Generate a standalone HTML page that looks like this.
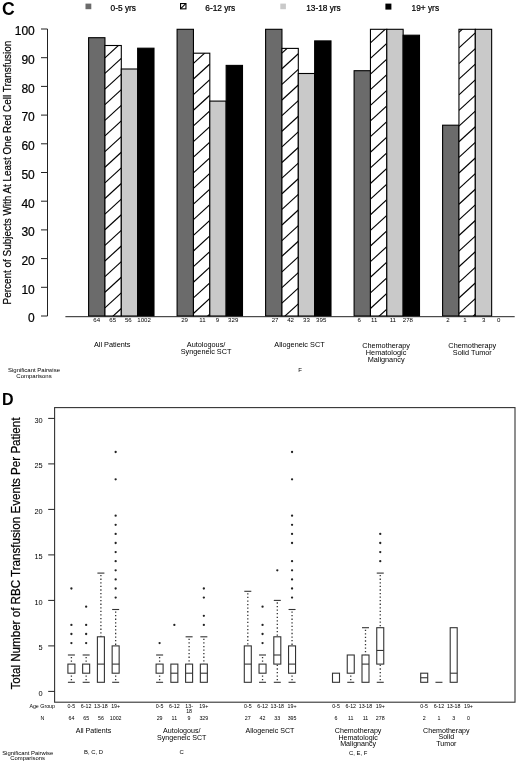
<!DOCTYPE html>
<html><head><meta charset="utf-8"><title>Figure</title>
<style>
html,body{margin:0;padding:0;background:#fff;}
body{width:520px;height:763px;overflow:hidden;}
svg{display:block;font-family:"Liberation Sans", sans-serif;will-change:transform;-webkit-font-smoothing:antialiased;}
text.b{stroke:#000;stroke-width:0.22px;}
</style></head>
<body>
<svg width="520" height="763" viewBox="0 0 520 763">
<rect x="0" y="0" width="520" height="763" fill="#fff"/>
<text x="2.00" y="15.10" font-size="17.6" text-anchor="start" font-weight="bold" fill="#000" >C</text>
<rect x="85.5" y="3.6" width="5.8" height="5.6" fill="#6b6b6b"/>
<text class="b" x="110.60" y="10.70" font-size="8.3" text-anchor="start" font-weight="normal" fill="#000" >0-5 yrs</text>
<rect x="180.55" y="3.5500000000000003" width="5.4" height="5.3" fill="#fff" stroke="#000" stroke-width="1.1"/>
<line x1="180.70" y1="8.70" x2="185.80" y2="3.70" stroke="#000" stroke-width="1.1" />
<text class="b" x="205.30" y="10.70" font-size="8.3" text-anchor="start" font-weight="normal" fill="#000" >6-12 yrs</text>
<rect x="280.3" y="3.6" width="5.6" height="5.6" fill="#c9c9c9"/>
<text class="b" x="306.20" y="10.70" font-size="8.3" text-anchor="start" font-weight="normal" fill="#000" >13-18 yrs</text>
<rect x="385.4" y="3.6" width="6" height="6" fill="#000"/>
<text class="b" x="411.60" y="10.70" font-size="8.3" text-anchor="start" font-weight="normal" fill="#000" >19+ yrs</text>
<line x1="47.50" y1="29.00" x2="47.50" y2="316.00" stroke="#222" stroke-width="1" />
<line x1="41.00" y1="316.00" x2="47.50" y2="316.00" stroke="#222" stroke-width="1" />
<text class="b" x="34.80" y="322.30" font-size="12" text-anchor="end" font-weight="normal" fill="#000" >0</text>
<line x1="41.00" y1="287.30" x2="47.50" y2="287.30" stroke="#222" stroke-width="1" />
<text class="b" x="34.80" y="293.60" font-size="12" text-anchor="end" font-weight="normal" fill="#000" >10</text>
<line x1="41.00" y1="258.60" x2="47.50" y2="258.60" stroke="#222" stroke-width="1" />
<text class="b" x="34.80" y="264.90" font-size="12" text-anchor="end" font-weight="normal" fill="#000" >20</text>
<line x1="41.00" y1="229.90" x2="47.50" y2="229.90" stroke="#222" stroke-width="1" />
<text class="b" x="34.80" y="236.20" font-size="12" text-anchor="end" font-weight="normal" fill="#000" >30</text>
<line x1="41.00" y1="201.20" x2="47.50" y2="201.20" stroke="#222" stroke-width="1" />
<text class="b" x="34.80" y="207.50" font-size="12" text-anchor="end" font-weight="normal" fill="#000" >40</text>
<line x1="41.00" y1="172.50" x2="47.50" y2="172.50" stroke="#222" stroke-width="1" />
<text class="b" x="34.80" y="178.80" font-size="12" text-anchor="end" font-weight="normal" fill="#000" >50</text>
<line x1="41.00" y1="143.80" x2="47.50" y2="143.80" stroke="#222" stroke-width="1" />
<text class="b" x="34.80" y="150.10" font-size="12" text-anchor="end" font-weight="normal" fill="#000" >60</text>
<line x1="41.00" y1="115.10" x2="47.50" y2="115.10" stroke="#222" stroke-width="1" />
<text class="b" x="34.80" y="121.40" font-size="12" text-anchor="end" font-weight="normal" fill="#000" >70</text>
<line x1="41.00" y1="86.40" x2="47.50" y2="86.40" stroke="#222" stroke-width="1" />
<text class="b" x="34.80" y="92.70" font-size="12" text-anchor="end" font-weight="normal" fill="#000" >80</text>
<line x1="41.00" y1="57.70" x2="47.50" y2="57.70" stroke="#222" stroke-width="1" />
<text class="b" x="34.80" y="64.00" font-size="12" text-anchor="end" font-weight="normal" fill="#000" >90</text>
<line x1="41.00" y1="29.00" x2="47.50" y2="29.00" stroke="#222" stroke-width="1" />
<text class="b" x="34.80" y="35.30" font-size="12" text-anchor="end" font-weight="normal" fill="#000" >100</text>
<text class="b" transform="translate(10.8,172.6) rotate(-90)" font-size="10.8" text-anchor="middle" textLength="263.6" lengthAdjust="spacingAndGlyphs">Percent of Subjects With At Least One Red Cell Transfusion</text>
<defs><clipPath id="none"><rect x="0" y="0" width="1" height="1"/></clipPath></defs>
<rect x="88.60" y="37.70" width="16.35" height="278.30" fill="#6b6b6b" stroke="#000" stroke-width="1.1"/>
<rect x="104.95" y="45.50" width="16.35" height="270.50" fill="#fff" stroke="#000" stroke-width="1.1"/>
<clipPath id="hc0"><rect x="104.95" y="45.50" width="16.35" height="270.50"/></clipPath>
<g clip-path="url(#hc0)">
<line x1="104.95" y1="10.91" x2="121.30" y2="-4.09" stroke="#000" stroke-width="1.15" />
<line x1="104.95" y1="26.54" x2="121.30" y2="11.54" stroke="#000" stroke-width="1.15" />
<line x1="104.95" y1="42.17" x2="121.30" y2="27.17" stroke="#000" stroke-width="1.15" />
<line x1="104.95" y1="57.80" x2="121.30" y2="42.80" stroke="#000" stroke-width="1.15" />
<line x1="104.95" y1="73.43" x2="121.30" y2="58.43" stroke="#000" stroke-width="1.15" />
<line x1="104.95" y1="89.06" x2="121.30" y2="74.06" stroke="#000" stroke-width="1.15" />
<line x1="104.95" y1="104.69" x2="121.30" y2="89.69" stroke="#000" stroke-width="1.15" />
<line x1="104.95" y1="120.32" x2="121.30" y2="105.32" stroke="#000" stroke-width="1.15" />
<line x1="104.95" y1="135.95" x2="121.30" y2="120.95" stroke="#000" stroke-width="1.15" />
<line x1="104.95" y1="151.58" x2="121.30" y2="136.58" stroke="#000" stroke-width="1.15" />
<line x1="104.95" y1="167.21" x2="121.30" y2="152.21" stroke="#000" stroke-width="1.15" />
<line x1="104.95" y1="182.84" x2="121.30" y2="167.84" stroke="#000" stroke-width="1.15" />
<line x1="104.95" y1="198.47" x2="121.30" y2="183.47" stroke="#000" stroke-width="1.15" />
<line x1="104.95" y1="214.10" x2="121.30" y2="199.10" stroke="#000" stroke-width="1.15" />
<line x1="104.95" y1="229.73" x2="121.30" y2="214.73" stroke="#000" stroke-width="1.15" />
<line x1="104.95" y1="245.36" x2="121.30" y2="230.36" stroke="#000" stroke-width="1.15" />
<line x1="104.95" y1="260.99" x2="121.30" y2="245.99" stroke="#000" stroke-width="1.15" />
<line x1="104.95" y1="276.62" x2="121.30" y2="261.62" stroke="#000" stroke-width="1.15" />
<line x1="104.95" y1="292.25" x2="121.30" y2="277.25" stroke="#000" stroke-width="1.15" />
<line x1="104.95" y1="307.88" x2="121.30" y2="292.88" stroke="#000" stroke-width="1.15" />
<line x1="104.95" y1="323.51" x2="121.30" y2="308.51" stroke="#000" stroke-width="1.15" />
</g>
<rect x="121.30" y="69.00" width="16.35" height="247.00" fill="#c9c9c9" stroke="#000" stroke-width="1.1"/>
<rect x="137.65" y="48.20" width="16.35" height="267.80" fill="#000" stroke="#000" stroke-width="1.1"/>
<rect x="177.10" y="29.30" width="16.35" height="286.70" fill="#6b6b6b" stroke="#000" stroke-width="1.1"/>
<rect x="193.45" y="53.20" width="16.35" height="262.80" fill="#fff" stroke="#000" stroke-width="1.1"/>
<clipPath id="hc1"><rect x="193.45" y="53.20" width="16.35" height="262.80"/></clipPath>
<g clip-path="url(#hc1)">
<line x1="193.45" y1="32.14" x2="209.80" y2="17.14" stroke="#000" stroke-width="1.15" />
<line x1="193.45" y1="47.77" x2="209.80" y2="32.77" stroke="#000" stroke-width="1.15" />
<line x1="193.45" y1="63.40" x2="209.80" y2="48.40" stroke="#000" stroke-width="1.15" />
<line x1="193.45" y1="79.03" x2="209.80" y2="64.03" stroke="#000" stroke-width="1.15" />
<line x1="193.45" y1="94.66" x2="209.80" y2="79.66" stroke="#000" stroke-width="1.15" />
<line x1="193.45" y1="110.29" x2="209.80" y2="95.29" stroke="#000" stroke-width="1.15" />
<line x1="193.45" y1="125.92" x2="209.80" y2="110.92" stroke="#000" stroke-width="1.15" />
<line x1="193.45" y1="141.55" x2="209.80" y2="126.55" stroke="#000" stroke-width="1.15" />
<line x1="193.45" y1="157.18" x2="209.80" y2="142.18" stroke="#000" stroke-width="1.15" />
<line x1="193.45" y1="172.81" x2="209.80" y2="157.81" stroke="#000" stroke-width="1.15" />
<line x1="193.45" y1="188.44" x2="209.80" y2="173.44" stroke="#000" stroke-width="1.15" />
<line x1="193.45" y1="204.07" x2="209.80" y2="189.07" stroke="#000" stroke-width="1.15" />
<line x1="193.45" y1="219.70" x2="209.80" y2="204.70" stroke="#000" stroke-width="1.15" />
<line x1="193.45" y1="235.33" x2="209.80" y2="220.33" stroke="#000" stroke-width="1.15" />
<line x1="193.45" y1="250.96" x2="209.80" y2="235.96" stroke="#000" stroke-width="1.15" />
<line x1="193.45" y1="266.59" x2="209.80" y2="251.59" stroke="#000" stroke-width="1.15" />
<line x1="193.45" y1="282.22" x2="209.80" y2="267.22" stroke="#000" stroke-width="1.15" />
<line x1="193.45" y1="297.85" x2="209.80" y2="282.85" stroke="#000" stroke-width="1.15" />
<line x1="193.45" y1="313.48" x2="209.80" y2="298.48" stroke="#000" stroke-width="1.15" />
<line x1="193.45" y1="329.11" x2="209.80" y2="314.11" stroke="#000" stroke-width="1.15" />
</g>
<rect x="209.80" y="101.10" width="16.35" height="214.90" fill="#c9c9c9" stroke="#000" stroke-width="1.1"/>
<rect x="226.15" y="65.40" width="16.35" height="250.60" fill="#000" stroke="#000" stroke-width="1.1"/>
<rect x="265.60" y="29.30" width="16.35" height="286.70" fill="#6b6b6b" stroke="#000" stroke-width="1.1"/>
<rect x="281.95" y="48.40" width="16.35" height="267.60" fill="#fff" stroke="#000" stroke-width="1.1"/>
<clipPath id="hc2"><rect x="281.95" y="48.40" width="16.35" height="267.60"/></clipPath>
<g clip-path="url(#hc2)">
<line x1="281.95" y1="21.84" x2="298.30" y2="6.84" stroke="#000" stroke-width="1.15" />
<line x1="281.95" y1="37.47" x2="298.30" y2="22.47" stroke="#000" stroke-width="1.15" />
<line x1="281.95" y1="53.10" x2="298.30" y2="38.10" stroke="#000" stroke-width="1.15" />
<line x1="281.95" y1="68.73" x2="298.30" y2="53.73" stroke="#000" stroke-width="1.15" />
<line x1="281.95" y1="84.36" x2="298.30" y2="69.36" stroke="#000" stroke-width="1.15" />
<line x1="281.95" y1="99.99" x2="298.30" y2="84.99" stroke="#000" stroke-width="1.15" />
<line x1="281.95" y1="115.62" x2="298.30" y2="100.62" stroke="#000" stroke-width="1.15" />
<line x1="281.95" y1="131.25" x2="298.30" y2="116.25" stroke="#000" stroke-width="1.15" />
<line x1="281.95" y1="146.88" x2="298.30" y2="131.88" stroke="#000" stroke-width="1.15" />
<line x1="281.95" y1="162.51" x2="298.30" y2="147.51" stroke="#000" stroke-width="1.15" />
<line x1="281.95" y1="178.14" x2="298.30" y2="163.14" stroke="#000" stroke-width="1.15" />
<line x1="281.95" y1="193.77" x2="298.30" y2="178.77" stroke="#000" stroke-width="1.15" />
<line x1="281.95" y1="209.40" x2="298.30" y2="194.40" stroke="#000" stroke-width="1.15" />
<line x1="281.95" y1="225.03" x2="298.30" y2="210.03" stroke="#000" stroke-width="1.15" />
<line x1="281.95" y1="240.66" x2="298.30" y2="225.66" stroke="#000" stroke-width="1.15" />
<line x1="281.95" y1="256.29" x2="298.30" y2="241.29" stroke="#000" stroke-width="1.15" />
<line x1="281.95" y1="271.92" x2="298.30" y2="256.92" stroke="#000" stroke-width="1.15" />
<line x1="281.95" y1="287.55" x2="298.30" y2="272.55" stroke="#000" stroke-width="1.15" />
<line x1="281.95" y1="303.18" x2="298.30" y2="288.18" stroke="#000" stroke-width="1.15" />
<line x1="281.95" y1="318.81" x2="298.30" y2="303.81" stroke="#000" stroke-width="1.15" />
<line x1="281.95" y1="334.44" x2="298.30" y2="319.44" stroke="#000" stroke-width="1.15" />
</g>
<rect x="298.30" y="73.50" width="16.35" height="242.50" fill="#c9c9c9" stroke="#000" stroke-width="1.1"/>
<rect x="314.65" y="40.90" width="16.35" height="275.10" fill="#000" stroke="#000" stroke-width="1.1"/>
<rect x="354.10" y="70.70" width="16.35" height="245.30" fill="#6b6b6b" stroke="#000" stroke-width="1.1"/>
<rect x="370.45" y="29.30" width="16.35" height="286.70" fill="#fff" stroke="#000" stroke-width="1.1"/>
<clipPath id="hc3"><rect x="370.45" y="29.30" width="16.35" height="286.70"/></clipPath>
<g clip-path="url(#hc3)">
<line x1="370.45" y1="-4.09" x2="386.80" y2="-19.09" stroke="#000" stroke-width="1.15" />
<line x1="370.45" y1="11.54" x2="386.80" y2="-3.46" stroke="#000" stroke-width="1.15" />
<line x1="370.45" y1="27.17" x2="386.80" y2="12.17" stroke="#000" stroke-width="1.15" />
<line x1="370.45" y1="42.80" x2="386.80" y2="27.80" stroke="#000" stroke-width="1.15" />
<line x1="370.45" y1="58.43" x2="386.80" y2="43.43" stroke="#000" stroke-width="1.15" />
<line x1="370.45" y1="74.06" x2="386.80" y2="59.06" stroke="#000" stroke-width="1.15" />
<line x1="370.45" y1="89.69" x2="386.80" y2="74.69" stroke="#000" stroke-width="1.15" />
<line x1="370.45" y1="105.32" x2="386.80" y2="90.32" stroke="#000" stroke-width="1.15" />
<line x1="370.45" y1="120.95" x2="386.80" y2="105.95" stroke="#000" stroke-width="1.15" />
<line x1="370.45" y1="136.58" x2="386.80" y2="121.58" stroke="#000" stroke-width="1.15" />
<line x1="370.45" y1="152.21" x2="386.80" y2="137.21" stroke="#000" stroke-width="1.15" />
<line x1="370.45" y1="167.84" x2="386.80" y2="152.84" stroke="#000" stroke-width="1.15" />
<line x1="370.45" y1="183.47" x2="386.80" y2="168.47" stroke="#000" stroke-width="1.15" />
<line x1="370.45" y1="199.10" x2="386.80" y2="184.10" stroke="#000" stroke-width="1.15" />
<line x1="370.45" y1="214.73" x2="386.80" y2="199.73" stroke="#000" stroke-width="1.15" />
<line x1="370.45" y1="230.36" x2="386.80" y2="215.36" stroke="#000" stroke-width="1.15" />
<line x1="370.45" y1="245.99" x2="386.80" y2="230.99" stroke="#000" stroke-width="1.15" />
<line x1="370.45" y1="261.62" x2="386.80" y2="246.62" stroke="#000" stroke-width="1.15" />
<line x1="370.45" y1="277.25" x2="386.80" y2="262.25" stroke="#000" stroke-width="1.15" />
<line x1="370.45" y1="292.88" x2="386.80" y2="277.88" stroke="#000" stroke-width="1.15" />
<line x1="370.45" y1="308.51" x2="386.80" y2="293.51" stroke="#000" stroke-width="1.15" />
<line x1="370.45" y1="324.14" x2="386.80" y2="309.14" stroke="#000" stroke-width="1.15" />
</g>
<rect x="386.80" y="29.30" width="16.35" height="286.70" fill="#c9c9c9" stroke="#000" stroke-width="1.1"/>
<rect x="403.15" y="35.20" width="16.35" height="280.80" fill="#000" stroke="#000" stroke-width="1.1"/>
<rect x="442.60" y="125.20" width="16.35" height="190.80" fill="#6b6b6b" stroke="#000" stroke-width="1.1"/>
<rect x="458.95" y="29.30" width="16.35" height="286.70" fill="#fff" stroke="#000" stroke-width="1.1"/>
<clipPath id="hc4"><rect x="458.95" y="29.30" width="16.35" height="286.70"/></clipPath>
<g clip-path="url(#hc4)">
<line x1="458.95" y1="1.04" x2="475.30" y2="-13.96" stroke="#000" stroke-width="1.15" />
<line x1="458.95" y1="16.67" x2="475.30" y2="1.67" stroke="#000" stroke-width="1.15" />
<line x1="458.95" y1="32.30" x2="475.30" y2="17.30" stroke="#000" stroke-width="1.15" />
<line x1="458.95" y1="47.93" x2="475.30" y2="32.93" stroke="#000" stroke-width="1.15" />
<line x1="458.95" y1="63.56" x2="475.30" y2="48.56" stroke="#000" stroke-width="1.15" />
<line x1="458.95" y1="79.19" x2="475.30" y2="64.19" stroke="#000" stroke-width="1.15" />
<line x1="458.95" y1="94.82" x2="475.30" y2="79.82" stroke="#000" stroke-width="1.15" />
<line x1="458.95" y1="110.45" x2="475.30" y2="95.45" stroke="#000" stroke-width="1.15" />
<line x1="458.95" y1="126.08" x2="475.30" y2="111.08" stroke="#000" stroke-width="1.15" />
<line x1="458.95" y1="141.71" x2="475.30" y2="126.71" stroke="#000" stroke-width="1.15" />
<line x1="458.95" y1="157.34" x2="475.30" y2="142.34" stroke="#000" stroke-width="1.15" />
<line x1="458.95" y1="172.97" x2="475.30" y2="157.97" stroke="#000" stroke-width="1.15" />
<line x1="458.95" y1="188.60" x2="475.30" y2="173.60" stroke="#000" stroke-width="1.15" />
<line x1="458.95" y1="204.23" x2="475.30" y2="189.23" stroke="#000" stroke-width="1.15" />
<line x1="458.95" y1="219.86" x2="475.30" y2="204.86" stroke="#000" stroke-width="1.15" />
<line x1="458.95" y1="235.49" x2="475.30" y2="220.49" stroke="#000" stroke-width="1.15" />
<line x1="458.95" y1="251.12" x2="475.30" y2="236.12" stroke="#000" stroke-width="1.15" />
<line x1="458.95" y1="266.75" x2="475.30" y2="251.75" stroke="#000" stroke-width="1.15" />
<line x1="458.95" y1="282.38" x2="475.30" y2="267.38" stroke="#000" stroke-width="1.15" />
<line x1="458.95" y1="298.01" x2="475.30" y2="283.01" stroke="#000" stroke-width="1.15" />
<line x1="458.95" y1="313.64" x2="475.30" y2="298.64" stroke="#000" stroke-width="1.15" />
<line x1="458.95" y1="329.27" x2="475.30" y2="314.27" stroke="#000" stroke-width="1.15" />
</g>
<rect x="475.30" y="29.30" width="16.35" height="286.70" fill="#c9c9c9" stroke="#000" stroke-width="1.1"/>
<line x1="65.40" y1="316.70" x2="514.70" y2="316.70" stroke="#222" stroke-width="1" />
<text x="96.70" y="321.90" font-size="6.1" text-anchor="middle" font-weight="normal" fill="#000" >64</text>
<text x="112.70" y="321.90" font-size="6.1" text-anchor="middle" font-weight="normal" fill="#000" >65</text>
<text x="128.30" y="321.90" font-size="6.1" text-anchor="middle" font-weight="normal" fill="#000" >56</text>
<text x="144.10" y="321.90" font-size="6.1" text-anchor="middle" font-weight="normal" fill="#000" >1002</text>
<text x="184.60" y="321.90" font-size="6.1" text-anchor="middle" font-weight="normal" fill="#000" >29</text>
<text x="202.40" y="321.90" font-size="6.1" text-anchor="middle" font-weight="normal" fill="#000" >11</text>
<text x="217.40" y="321.90" font-size="6.1" text-anchor="middle" font-weight="normal" fill="#000" >9</text>
<text x="233.20" y="321.90" font-size="6.1" text-anchor="middle" font-weight="normal" fill="#000" >329</text>
<text x="275.10" y="321.90" font-size="6.1" text-anchor="middle" font-weight="normal" fill="#000" >27</text>
<text x="290.60" y="321.90" font-size="6.1" text-anchor="middle" font-weight="normal" fill="#000" >42</text>
<text x="306.50" y="321.90" font-size="6.1" text-anchor="middle" font-weight="normal" fill="#000" >33</text>
<text x="321.20" y="321.90" font-size="6.1" text-anchor="middle" font-weight="normal" fill="#000" >395</text>
<text x="359.20" y="321.90" font-size="6.1" text-anchor="middle" font-weight="normal" fill="#000" >6</text>
<text x="374.20" y="321.90" font-size="6.1" text-anchor="middle" font-weight="normal" fill="#000" >11</text>
<text x="392.80" y="321.90" font-size="6.1" text-anchor="middle" font-weight="normal" fill="#000" >11</text>
<text x="407.90" y="321.90" font-size="6.1" text-anchor="middle" font-weight="normal" fill="#000" >278</text>
<text x="447.90" y="321.90" font-size="6.1" text-anchor="middle" font-weight="normal" fill="#000" >2</text>
<text x="464.90" y="321.90" font-size="6.1" text-anchor="middle" font-weight="normal" fill="#000" >1</text>
<text x="483.80" y="321.90" font-size="6.1" text-anchor="middle" font-weight="normal" fill="#000" >3</text>
<text x="498.70" y="321.90" font-size="6.1" text-anchor="middle" font-weight="normal" fill="#000" >0</text>
<text x="112.20" y="347.43" font-size="7.3" text-anchor="middle" font-weight="normal" fill="#000" >All Patients</text>
<text x="206.10" y="347.43" font-size="7.3" text-anchor="middle" font-weight="normal" fill="#000" >Autologous/</text>
<text x="206.10" y="354.03" font-size="7.3" text-anchor="middle" font-weight="normal" fill="#000" >Syngeneic SCT</text>
<text x="299.50" y="347.43" font-size="7.3" text-anchor="middle" font-weight="normal" fill="#000" >Allogeneic SCT</text>
<text x="386.10" y="347.63" font-size="7.3" text-anchor="middle" font-weight="normal" fill="#000" >Chemotherapy</text>
<text x="386.10" y="354.83" font-size="7.3" text-anchor="middle" font-weight="normal" fill="#000" >Hematologic</text>
<text x="386.10" y="362.03" font-size="7.3" text-anchor="middle" font-weight="normal" fill="#000" >Malignancy</text>
<text x="472.30" y="347.63" font-size="7.3" text-anchor="middle" font-weight="normal" fill="#000" >Chemotherapy</text>
<text x="472.30" y="354.93" font-size="7.3" text-anchor="middle" font-weight="normal" fill="#000" >Solid Tumor</text>
<text x="34.00" y="371.70" font-size="6.0" text-anchor="middle" font-weight="normal" fill="#000" >Significant Pairwise</text>
<text x="34.00" y="377.90" font-size="6.0" text-anchor="middle" font-weight="normal" fill="#000" >Comparisons</text>
<text x="300.00" y="372.20" font-size="6.0" text-anchor="middle" font-weight="normal" fill="#000" >F</text>
<text x="2.00" y="405.00" font-size="16" text-anchor="start" font-weight="bold" fill="#000" >D</text>
<rect x="54.6" y="407.6" width="460.40" height="294.60" fill="none" stroke="#333" stroke-width="1.1"/>
<line x1="48.20" y1="691.40" x2="54.60" y2="691.40" stroke="#222" stroke-width="1" />
<text x="42.70" y="695.50" font-size="7.4" text-anchor="end" font-weight="normal" fill="#000" >0</text>
<line x1="48.20" y1="645.90" x2="54.60" y2="645.90" stroke="#222" stroke-width="1" />
<text x="42.70" y="650.00" font-size="7.4" text-anchor="end" font-weight="normal" fill="#000" >5</text>
<line x1="48.20" y1="600.40" x2="54.60" y2="600.40" stroke="#222" stroke-width="1" />
<text x="42.70" y="604.50" font-size="7.4" text-anchor="end" font-weight="normal" fill="#000" >10</text>
<line x1="48.20" y1="554.90" x2="54.60" y2="554.90" stroke="#222" stroke-width="1" />
<text x="42.70" y="559.00" font-size="7.4" text-anchor="end" font-weight="normal" fill="#000" >15</text>
<line x1="48.20" y1="509.40" x2="54.60" y2="509.40" stroke="#222" stroke-width="1" />
<text x="42.70" y="513.50" font-size="7.4" text-anchor="end" font-weight="normal" fill="#000" >20</text>
<line x1="48.20" y1="463.90" x2="54.60" y2="463.90" stroke="#222" stroke-width="1" />
<text x="42.70" y="468.00" font-size="7.4" text-anchor="end" font-weight="normal" fill="#000" >25</text>
<line x1="48.20" y1="418.40" x2="54.60" y2="418.40" stroke="#222" stroke-width="1" />
<text x="42.70" y="422.50" font-size="7.4" text-anchor="end" font-weight="normal" fill="#000" >30</text>
<text class="b" transform="translate(19.8,553.5) rotate(-90)" font-size="12" text-anchor="middle" textLength="272" lengthAdjust="spacingAndGlyphs">Total Number of RBC Transfusion Events Per Patient</text>
<line x1="71.40" y1="655.00" x2="71.40" y2="664.10" stroke="#333" stroke-width="1.3" stroke-dasharray="1.3 2.27" stroke-dashoffset="1.62"/>
<line x1="67.90" y1="655.00" x2="74.90" y2="655.00" stroke="#333" stroke-width="1.1" />
<line x1="71.40" y1="682.30" x2="71.40" y2="673.20" stroke="#333" stroke-width="1.3" stroke-dasharray="1.3 2.27" stroke-dashoffset="1.62"/>
<line x1="67.90" y1="682.30" x2="74.90" y2="682.30" stroke="#333" stroke-width="1.1" />
<rect x="67.90" y="664.10" width="7.00" height="9.10" fill="none" stroke="#333" stroke-width="1.1"/>
<circle cx="71.40" cy="643.10" r="1.15" fill="#222"/>
<circle cx="71.40" cy="634.00" r="1.15" fill="#222"/>
<circle cx="71.40" cy="624.90" r="1.15" fill="#222"/>
<circle cx="71.40" cy="588.50" r="1.15" fill="#222"/>
<line x1="86.15" y1="655.00" x2="86.15" y2="664.10" stroke="#333" stroke-width="1.3" stroke-dasharray="1.3 2.27" stroke-dashoffset="1.62"/>
<line x1="82.65" y1="655.00" x2="89.65" y2="655.00" stroke="#333" stroke-width="1.1" />
<line x1="86.15" y1="682.30" x2="86.15" y2="673.20" stroke="#333" stroke-width="1.3" stroke-dasharray="1.3 2.27" stroke-dashoffset="1.62"/>
<line x1="82.65" y1="682.30" x2="89.65" y2="682.30" stroke="#333" stroke-width="1.1" />
<rect x="82.65" y="664.10" width="7.00" height="9.10" fill="none" stroke="#333" stroke-width="1.1"/>
<circle cx="86.15" cy="643.10" r="1.15" fill="#222"/>
<circle cx="86.15" cy="634.00" r="1.15" fill="#222"/>
<circle cx="86.15" cy="624.90" r="1.15" fill="#222"/>
<circle cx="86.15" cy="606.70" r="1.15" fill="#222"/>
<line x1="100.90" y1="573.10" x2="100.90" y2="636.80" stroke="#333" stroke-width="1.3" stroke-dasharray="1.3 2.27" stroke-dashoffset="1.62"/>
<line x1="97.40" y1="573.10" x2="104.40" y2="573.10" stroke="#333" stroke-width="1.1" />
<rect x="97.40" y="636.80" width="7.00" height="45.50" fill="none" stroke="#333" stroke-width="1.1"/>
<line x1="97.40" y1="664.10" x2="104.40" y2="664.10" stroke="#333" stroke-width="1.1" />
<line x1="115.65" y1="609.50" x2="115.65" y2="645.90" stroke="#333" stroke-width="1.3" stroke-dasharray="1.3 2.27" stroke-dashoffset="1.62"/>
<line x1="112.15" y1="609.50" x2="119.15" y2="609.50" stroke="#333" stroke-width="1.1" />
<line x1="115.65" y1="682.30" x2="115.65" y2="673.20" stroke="#333" stroke-width="1.3" stroke-dasharray="1.3 2.27" stroke-dashoffset="1.62"/>
<line x1="112.15" y1="682.30" x2="119.15" y2="682.30" stroke="#333" stroke-width="1.1" />
<rect x="112.15" y="645.90" width="7.00" height="27.30" fill="none" stroke="#333" stroke-width="1.1"/>
<line x1="112.15" y1="664.10" x2="119.15" y2="664.10" stroke="#333" stroke-width="1.1" />
<circle cx="115.65" cy="597.60" r="1.15" fill="#222"/>
<circle cx="115.65" cy="588.50" r="1.15" fill="#222"/>
<circle cx="115.65" cy="579.40" r="1.15" fill="#222"/>
<circle cx="115.65" cy="570.30" r="1.15" fill="#222"/>
<circle cx="115.65" cy="561.20" r="1.15" fill="#222"/>
<circle cx="115.65" cy="552.10" r="1.15" fill="#222"/>
<circle cx="115.65" cy="543.00" r="1.15" fill="#222"/>
<circle cx="115.65" cy="533.90" r="1.15" fill="#222"/>
<circle cx="115.65" cy="524.80" r="1.15" fill="#222"/>
<circle cx="115.65" cy="515.70" r="1.15" fill="#222"/>
<circle cx="115.65" cy="479.30" r="1.15" fill="#222"/>
<circle cx="115.65" cy="452.00" r="1.15" fill="#222"/>
<line x1="159.60" y1="655.00" x2="159.60" y2="664.10" stroke="#333" stroke-width="1.3" stroke-dasharray="1.3 2.27" stroke-dashoffset="1.62"/>
<line x1="156.10" y1="655.00" x2="163.10" y2="655.00" stroke="#333" stroke-width="1.1" />
<line x1="159.60" y1="682.30" x2="159.60" y2="673.20" stroke="#333" stroke-width="1.3" stroke-dasharray="1.3 2.27" stroke-dashoffset="1.62"/>
<line x1="156.10" y1="682.30" x2="163.10" y2="682.30" stroke="#333" stroke-width="1.1" />
<rect x="156.10" y="664.10" width="7.00" height="9.10" fill="none" stroke="#333" stroke-width="1.1"/>
<circle cx="159.60" cy="643.10" r="1.15" fill="#222"/>
<rect x="170.85" y="664.10" width="7.00" height="18.20" fill="none" stroke="#333" stroke-width="1.1"/>
<line x1="170.85" y1="673.20" x2="177.85" y2="673.20" stroke="#333" stroke-width="1.1" />
<circle cx="174.35" cy="624.90" r="1.15" fill="#222"/>
<line x1="189.10" y1="636.80" x2="189.10" y2="664.10" stroke="#333" stroke-width="1.3" stroke-dasharray="1.3 2.27" stroke-dashoffset="1.62"/>
<line x1="185.60" y1="636.80" x2="192.60" y2="636.80" stroke="#333" stroke-width="1.1" />
<rect x="185.60" y="664.10" width="7.00" height="18.20" fill="none" stroke="#333" stroke-width="1.1"/>
<line x1="185.60" y1="673.20" x2="192.60" y2="673.20" stroke="#333" stroke-width="1.1" />
<line x1="203.85" y1="636.80" x2="203.85" y2="664.10" stroke="#333" stroke-width="1.3" stroke-dasharray="1.3 2.27" stroke-dashoffset="1.62"/>
<line x1="200.35" y1="636.80" x2="207.35" y2="636.80" stroke="#333" stroke-width="1.1" />
<rect x="200.35" y="664.10" width="7.00" height="18.20" fill="none" stroke="#333" stroke-width="1.1"/>
<line x1="200.35" y1="673.20" x2="207.35" y2="673.20" stroke="#333" stroke-width="1.1" />
<circle cx="203.85" cy="624.90" r="1.15" fill="#222"/>
<circle cx="203.85" cy="615.80" r="1.15" fill="#222"/>
<circle cx="203.85" cy="597.60" r="1.15" fill="#222"/>
<circle cx="203.85" cy="588.50" r="1.15" fill="#222"/>
<line x1="247.80" y1="591.30" x2="247.80" y2="645.90" stroke="#333" stroke-width="1.3" stroke-dasharray="1.3 2.27" stroke-dashoffset="1.62"/>
<line x1="244.30" y1="591.30" x2="251.30" y2="591.30" stroke="#333" stroke-width="1.1" />
<rect x="244.30" y="645.90" width="7.00" height="36.40" fill="none" stroke="#333" stroke-width="1.1"/>
<line x1="244.30" y1="664.10" x2="251.30" y2="664.10" stroke="#333" stroke-width="1.1" />
<line x1="262.55" y1="655.00" x2="262.55" y2="664.10" stroke="#333" stroke-width="1.3" stroke-dasharray="1.3 2.27" stroke-dashoffset="1.62"/>
<line x1="259.05" y1="655.00" x2="266.05" y2="655.00" stroke="#333" stroke-width="1.1" />
<line x1="262.55" y1="682.30" x2="262.55" y2="673.20" stroke="#333" stroke-width="1.3" stroke-dasharray="1.3 2.27" stroke-dashoffset="1.62"/>
<line x1="259.05" y1="682.30" x2="266.05" y2="682.30" stroke="#333" stroke-width="1.1" />
<rect x="259.05" y="664.10" width="7.00" height="9.10" fill="none" stroke="#333" stroke-width="1.1"/>
<circle cx="262.55" cy="643.10" r="1.15" fill="#222"/>
<circle cx="262.55" cy="634.00" r="1.15" fill="#222"/>
<circle cx="262.55" cy="624.90" r="1.15" fill="#222"/>
<circle cx="262.55" cy="606.70" r="1.15" fill="#222"/>
<line x1="277.30" y1="600.40" x2="277.30" y2="636.80" stroke="#333" stroke-width="1.3" stroke-dasharray="1.3 2.27" stroke-dashoffset="1.62"/>
<line x1="273.80" y1="600.40" x2="280.80" y2="600.40" stroke="#333" stroke-width="1.1" />
<line x1="277.30" y1="682.30" x2="277.30" y2="664.10" stroke="#333" stroke-width="1.3" stroke-dasharray="1.3 2.27" stroke-dashoffset="1.62"/>
<line x1="273.80" y1="682.30" x2="280.80" y2="682.30" stroke="#333" stroke-width="1.1" />
<rect x="273.80" y="636.80" width="7.00" height="27.30" fill="none" stroke="#333" stroke-width="1.1"/>
<line x1="273.80" y1="655.00" x2="280.80" y2="655.00" stroke="#333" stroke-width="1.1" />
<circle cx="277.30" cy="570.30" r="1.15" fill="#222"/>
<line x1="292.05" y1="609.50" x2="292.05" y2="645.90" stroke="#333" stroke-width="1.3" stroke-dasharray="1.3 2.27" stroke-dashoffset="1.62"/>
<line x1="288.55" y1="609.50" x2="295.55" y2="609.50" stroke="#333" stroke-width="1.1" />
<line x1="292.05" y1="682.30" x2="292.05" y2="673.20" stroke="#333" stroke-width="1.3" stroke-dasharray="1.3 2.27" stroke-dashoffset="1.62"/>
<line x1="288.55" y1="682.30" x2="295.55" y2="682.30" stroke="#333" stroke-width="1.1" />
<rect x="288.55" y="645.90" width="7.00" height="27.30" fill="none" stroke="#333" stroke-width="1.1"/>
<line x1="288.55" y1="664.10" x2="295.55" y2="664.10" stroke="#333" stroke-width="1.1" />
<circle cx="292.05" cy="597.60" r="1.15" fill="#222"/>
<circle cx="292.05" cy="588.50" r="1.15" fill="#222"/>
<circle cx="292.05" cy="579.40" r="1.15" fill="#222"/>
<circle cx="292.05" cy="570.30" r="1.15" fill="#222"/>
<circle cx="292.05" cy="561.20" r="1.15" fill="#222"/>
<circle cx="292.05" cy="543.00" r="1.15" fill="#222"/>
<circle cx="292.05" cy="533.90" r="1.15" fill="#222"/>
<circle cx="292.05" cy="524.80" r="1.15" fill="#222"/>
<circle cx="292.05" cy="515.70" r="1.15" fill="#222"/>
<circle cx="292.05" cy="479.30" r="1.15" fill="#222"/>
<circle cx="292.05" cy="452.00" r="1.15" fill="#222"/>
<rect x="332.50" y="673.20" width="7.00" height="9.10" fill="none" stroke="#333" stroke-width="1.1"/>
<line x1="350.75" y1="682.30" x2="350.75" y2="673.20" stroke="#333" stroke-width="1.3" stroke-dasharray="1.3 2.27" stroke-dashoffset="1.62"/>
<line x1="347.25" y1="682.30" x2="354.25" y2="682.30" stroke="#333" stroke-width="1.1" />
<rect x="347.25" y="655.00" width="7.00" height="18.20" fill="none" stroke="#333" stroke-width="1.1"/>
<line x1="365.50" y1="627.70" x2="365.50" y2="655.00" stroke="#333" stroke-width="1.3" stroke-dasharray="1.3 2.27" stroke-dashoffset="1.62"/>
<line x1="362.00" y1="627.70" x2="369.00" y2="627.70" stroke="#333" stroke-width="1.1" />
<rect x="362.00" y="655.00" width="7.00" height="27.30" fill="none" stroke="#333" stroke-width="1.1"/>
<line x1="362.00" y1="664.10" x2="369.00" y2="664.10" stroke="#333" stroke-width="1.1" />
<line x1="380.25" y1="573.10" x2="380.25" y2="627.70" stroke="#333" stroke-width="1.3" stroke-dasharray="1.3 2.27" stroke-dashoffset="1.62"/>
<line x1="376.75" y1="573.10" x2="383.75" y2="573.10" stroke="#333" stroke-width="1.1" />
<line x1="380.25" y1="682.30" x2="380.25" y2="664.10" stroke="#333" stroke-width="1.3" stroke-dasharray="1.3 2.27" stroke-dashoffset="1.62"/>
<line x1="376.75" y1="682.30" x2="383.75" y2="682.30" stroke="#333" stroke-width="1.1" />
<rect x="376.75" y="627.70" width="7.00" height="36.40" fill="none" stroke="#333" stroke-width="1.1"/>
<line x1="376.75" y1="650.45" x2="383.75" y2="650.45" stroke="#333" stroke-width="1.1" />
<circle cx="380.25" cy="561.20" r="1.15" fill="#222"/>
<circle cx="380.25" cy="552.10" r="1.15" fill="#222"/>
<circle cx="380.25" cy="543.00" r="1.15" fill="#222"/>
<circle cx="380.25" cy="533.90" r="1.15" fill="#222"/>
<rect x="420.70" y="673.20" width="7.00" height="9.10" fill="none" stroke="#333" stroke-width="1.1"/>
<line x1="420.70" y1="677.75" x2="427.70" y2="677.75" stroke="#333" stroke-width="1.1" />
<line x1="435.45" y1="682.30" x2="442.45" y2="682.30" stroke="#333" stroke-width="1.1" />
<rect x="450.20" y="627.70" width="7.00" height="54.60" fill="none" stroke="#333" stroke-width="1.1"/>
<line x1="450.20" y1="673.20" x2="457.20" y2="673.20" stroke="#333" stroke-width="1.1" />
<text x="42.20" y="707.60" font-size="5.3" text-anchor="middle" font-weight="normal" fill="#000" >Age Group</text>
<text x="42.50" y="719.80" font-size="5.3" text-anchor="middle" font-weight="normal" fill="#000" >N</text>
<text x="71.40" y="707.60" font-size="5.3" text-anchor="middle" font-weight="normal" fill="#000" >0-5</text>
<text x="71.40" y="719.80" font-size="5.3" text-anchor="middle" font-weight="normal" fill="#000" >64</text>
<text x="86.15" y="707.60" font-size="5.3" text-anchor="middle" font-weight="normal" fill="#000" >6-12</text>
<text x="86.15" y="719.80" font-size="5.3" text-anchor="middle" font-weight="normal" fill="#000" >65</text>
<text x="100.90" y="707.60" font-size="5.3" text-anchor="middle" font-weight="normal" fill="#000" >13-18</text>
<text x="100.90" y="719.80" font-size="5.3" text-anchor="middle" font-weight="normal" fill="#000" >56</text>
<text x="115.65" y="707.60" font-size="5.3" text-anchor="middle" font-weight="normal" fill="#000" >19+</text>
<text x="115.65" y="719.80" font-size="5.3" text-anchor="middle" font-weight="normal" fill="#000" >1002</text>
<text x="159.60" y="707.60" font-size="5.3" text-anchor="middle" font-weight="normal" fill="#000" >0-5</text>
<text x="159.60" y="719.80" font-size="5.3" text-anchor="middle" font-weight="normal" fill="#000" >29</text>
<text x="174.35" y="707.60" font-size="5.3" text-anchor="middle" font-weight="normal" fill="#000" >6-12</text>
<text x="174.35" y="719.80" font-size="5.3" text-anchor="middle" font-weight="normal" fill="#000" >11</text>
<text x="189.10" y="707.60" font-size="5.3" text-anchor="middle" font-weight="normal" fill="#000" >13-</text>
<text x="189.10" y="712.60" font-size="5.3" text-anchor="middle" font-weight="normal" fill="#000" >18</text>
<text x="189.10" y="719.80" font-size="5.3" text-anchor="middle" font-weight="normal" fill="#000" >9</text>
<text x="203.85" y="707.60" font-size="5.3" text-anchor="middle" font-weight="normal" fill="#000" >19+</text>
<text x="203.85" y="719.80" font-size="5.3" text-anchor="middle" font-weight="normal" fill="#000" >329</text>
<text x="247.80" y="707.60" font-size="5.3" text-anchor="middle" font-weight="normal" fill="#000" >0-5</text>
<text x="247.80" y="719.80" font-size="5.3" text-anchor="middle" font-weight="normal" fill="#000" >27</text>
<text x="262.55" y="707.60" font-size="5.3" text-anchor="middle" font-weight="normal" fill="#000" >6-12</text>
<text x="262.55" y="719.80" font-size="5.3" text-anchor="middle" font-weight="normal" fill="#000" >42</text>
<text x="277.30" y="707.60" font-size="5.3" text-anchor="middle" font-weight="normal" fill="#000" >13-18</text>
<text x="277.30" y="719.80" font-size="5.3" text-anchor="middle" font-weight="normal" fill="#000" >33</text>
<text x="292.05" y="707.60" font-size="5.3" text-anchor="middle" font-weight="normal" fill="#000" >19+</text>
<text x="292.05" y="719.80" font-size="5.3" text-anchor="middle" font-weight="normal" fill="#000" >395</text>
<text x="336.00" y="707.60" font-size="5.3" text-anchor="middle" font-weight="normal" fill="#000" >0-5</text>
<text x="336.00" y="719.80" font-size="5.3" text-anchor="middle" font-weight="normal" fill="#000" >6</text>
<text x="350.75" y="707.60" font-size="5.3" text-anchor="middle" font-weight="normal" fill="#000" >6-12</text>
<text x="350.75" y="719.80" font-size="5.3" text-anchor="middle" font-weight="normal" fill="#000" >11</text>
<text x="365.50" y="707.60" font-size="5.3" text-anchor="middle" font-weight="normal" fill="#000" >13-18</text>
<text x="365.50" y="719.80" font-size="5.3" text-anchor="middle" font-weight="normal" fill="#000" >11</text>
<text x="380.25" y="707.60" font-size="5.3" text-anchor="middle" font-weight="normal" fill="#000" >19+</text>
<text x="380.25" y="719.80" font-size="5.3" text-anchor="middle" font-weight="normal" fill="#000" >278</text>
<text x="424.20" y="707.60" font-size="5.3" text-anchor="middle" font-weight="normal" fill="#000" >0-5</text>
<text x="424.20" y="719.80" font-size="5.3" text-anchor="middle" font-weight="normal" fill="#000" >2</text>
<text x="438.95" y="707.60" font-size="5.3" text-anchor="middle" font-weight="normal" fill="#000" >6-12</text>
<text x="438.95" y="719.80" font-size="5.3" text-anchor="middle" font-weight="normal" fill="#000" >1</text>
<text x="453.70" y="707.60" font-size="5.3" text-anchor="middle" font-weight="normal" fill="#000" >13-18</text>
<text x="453.70" y="719.80" font-size="5.3" text-anchor="middle" font-weight="normal" fill="#000" >3</text>
<text x="468.45" y="707.60" font-size="5.3" text-anchor="middle" font-weight="normal" fill="#000" >19+</text>
<text x="468.45" y="719.80" font-size="5.3" text-anchor="middle" font-weight="normal" fill="#000" >0</text>
<text x="93.53" y="732.68" font-size="7.1" text-anchor="middle" font-weight="normal" fill="#000" >All Patients</text>
<text x="181.73" y="732.68" font-size="7.1" text-anchor="middle" font-weight="normal" fill="#000" >Autologous/</text>
<text x="181.73" y="739.88" font-size="7.1" text-anchor="middle" font-weight="normal" fill="#000" >Syngeneic SCT</text>
<text x="269.93" y="732.68" font-size="7.1" text-anchor="middle" font-weight="normal" fill="#000" >Allogeneic SCT</text>
<text x="358.12" y="732.68" font-size="7.1" text-anchor="middle" font-weight="normal" fill="#000" >Chemotherapy</text>
<text x="358.12" y="739.58" font-size="7.1" text-anchor="middle" font-weight="normal" fill="#000" >Hematologic</text>
<text x="358.12" y="746.48" font-size="7.1" text-anchor="middle" font-weight="normal" fill="#000" >Malignancy</text>
<text x="446.33" y="732.58" font-size="7.1" text-anchor="middle" font-weight="normal" fill="#000" >Chemotherapy</text>
<text x="446.33" y="739.48" font-size="7.1" text-anchor="middle" font-weight="normal" fill="#000" >Solid</text>
<text x="446.33" y="746.38" font-size="7.1" text-anchor="middle" font-weight="normal" fill="#000" >Tumor</text>
<text x="27.70" y="754.52" font-size="5.9" text-anchor="middle" font-weight="normal" fill="#000" >Significant Pairwise</text>
<text x="27.70" y="759.72" font-size="5.9" text-anchor="middle" font-weight="normal" fill="#000" >Comparisons</text>
<text x="93.53" y="754.20" font-size="5.9" text-anchor="middle" font-weight="normal" fill="#000" >B, C, D</text>
<text x="181.73" y="754.20" font-size="5.9" text-anchor="middle" font-weight="normal" fill="#000" >C</text>
<text x="358.12" y="754.80" font-size="5.9" text-anchor="middle" font-weight="normal" fill="#000" >C, E, F</text>
</svg>
</body></html>
